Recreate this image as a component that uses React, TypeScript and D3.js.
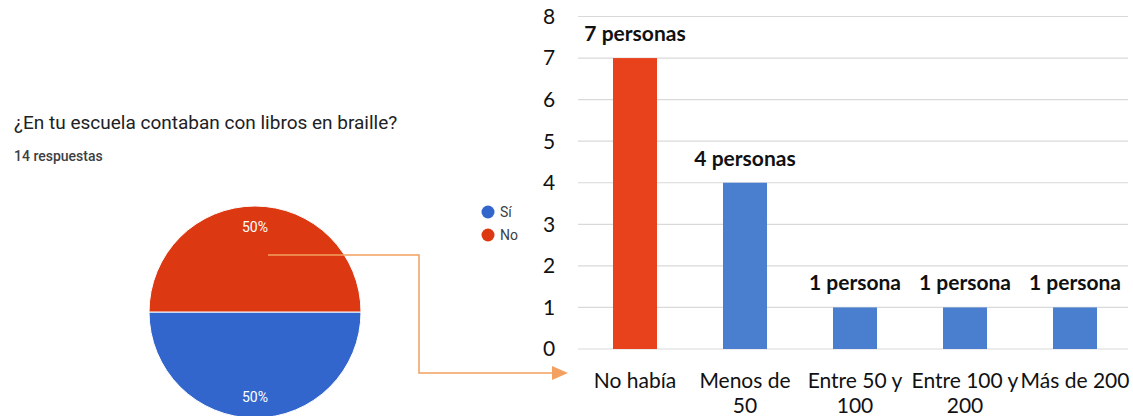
import React from "react";
import * as d3 from "d3";

const pieLabels = ["Sí", "No"];
const pieValues = [7, 7];
const pieColors = ["#3366cc", "#dc3912"];

const categories = [["No había"], ["Menos de", "50"], ["Entre 50 y", "100"], ["Entre 100 y", "200"], ["Más de 200"]];
const barValues = [7, 4, 1, 1, 1];
const barLabels = ["7 personas", "4 personas", "1 persona", "1 persona", "1 persona"];
const barColors = ["#e8421c", "#4a7ecf", "#4a7ecf", "#4a7ecf", "#4a7ecf"];
const yTicks = [0, 1, 2, 3, 4, 5, 6, 7, 8];

export default function App() {
  const W = 1133, H = 416;
  const x = d3.scaleBand<number>().domain(d3.range(categories.length)).range([580, 1130]).paddingInner(0.6).paddingOuter(0.3);
  const y = d3.scaleLinear().domain([0, 8]).range([349, 16.5]);
  const pie = d3.pie<number>().sort(null).startAngle(Math.PI / 2).endAngle(Math.PI / 2 + 2 * Math.PI)(pieValues);
  const r = 106;
  const arc = d3.arc<d3.PieArcDatum<number>>().innerRadius(0).outerRadius(r);
  const cx = 255, cy = 312;
  const total = d3.sum(pieValues);
  const conn = d3.line()([[268, 255], [419, 255], [419, 373], [556, 373]]);
  return (
    <svg width={W} height={H} style={{ position: "absolute", left: 0, top: 0, background: "#fff" }}>
      <text x={14} y={129} fontFamily="Roboto" fontSize={19} fill="#202124">¿En tu escuela contaban con libros en braille?</text>
      <text x={14} y={161} fontFamily="Roboto" fontWeight={500} fontSize={14} fill="#3c4043">14 respuestas</text>
      <g transform={`translate(${cx},${cy})`}>
        {pie.map((d, i) => (
          <path key={i} d={arc(d) || ""} fill={pieColors[i]} stroke="#fff" strokeWidth={1} />
        ))}
        {pie.map((d, i) => {
          const mid = (d.startAngle + d.endAngle) / 2;
          const rr = r * 0.8;
          const px = Math.sin(mid) * rr, py = -Math.cos(mid) * rr;
          return (
            <text key={i} x={px} y={py} dy="0.35em" textAnchor="middle" fontFamily="Roboto" fontSize={14} fill="#fff">
              {d3.format(".0%")(d.data / total)}
            </text>
          );
        })}
      </g>
      {pieLabels.map((l, i) => (
        <g key={l} transform={`translate(488,${212 + i * 23})`}>
          <circle r={6.5} fill={pieColors[i]} />
          <text x={12} dy="0.35em" fontFamily="Roboto" fontSize={14} fill="#3c4043">{l}</text>
        </g>
      ))}
      <path d={conn || ""} fill="none" stroke="#f4a060" strokeWidth={1.5} />
      <path d="M552,366 L568,373 L552,380 Z" fill="#f4a060" />
      {yTicks.map((t) => (
        <g key={t}>
          <line x1={578} x2={1128} y1={y(t)} y2={y(t)} stroke="#d9d9d9" strokeWidth={1.2} />
          <text x={549} y={y(t)} dy="0.35em" textAnchor="middle" fontFamily="Lato" fontSize={21} fill="#111">{t}</text>
        </g>
      ))}
      {barValues.map((v, i) => (
        <g key={i}>
          <rect x={x(i)} y={y(v)} width={x.bandwidth()} height={y(0) - y(v)} fill={barColors[i]} />
          <text x={(x(i) || 0) + x.bandwidth() / 2} y={y(v) - 17} textAnchor="middle" fontFamily="Lato" fontWeight="bold" fontSize={21} fill="#111">{barLabels[i]}</text>
          {categories[i].map((line, j) => (
            <text key={j} x={(x(i) || 0) + x.bandwidth() / 2} y={388 + j * 25} textAnchor="middle" fontFamily="Lato" fontSize={21} fill="#111">{line}</text>
          ))}
        </g>
      ))}
    </svg>
  );
}
